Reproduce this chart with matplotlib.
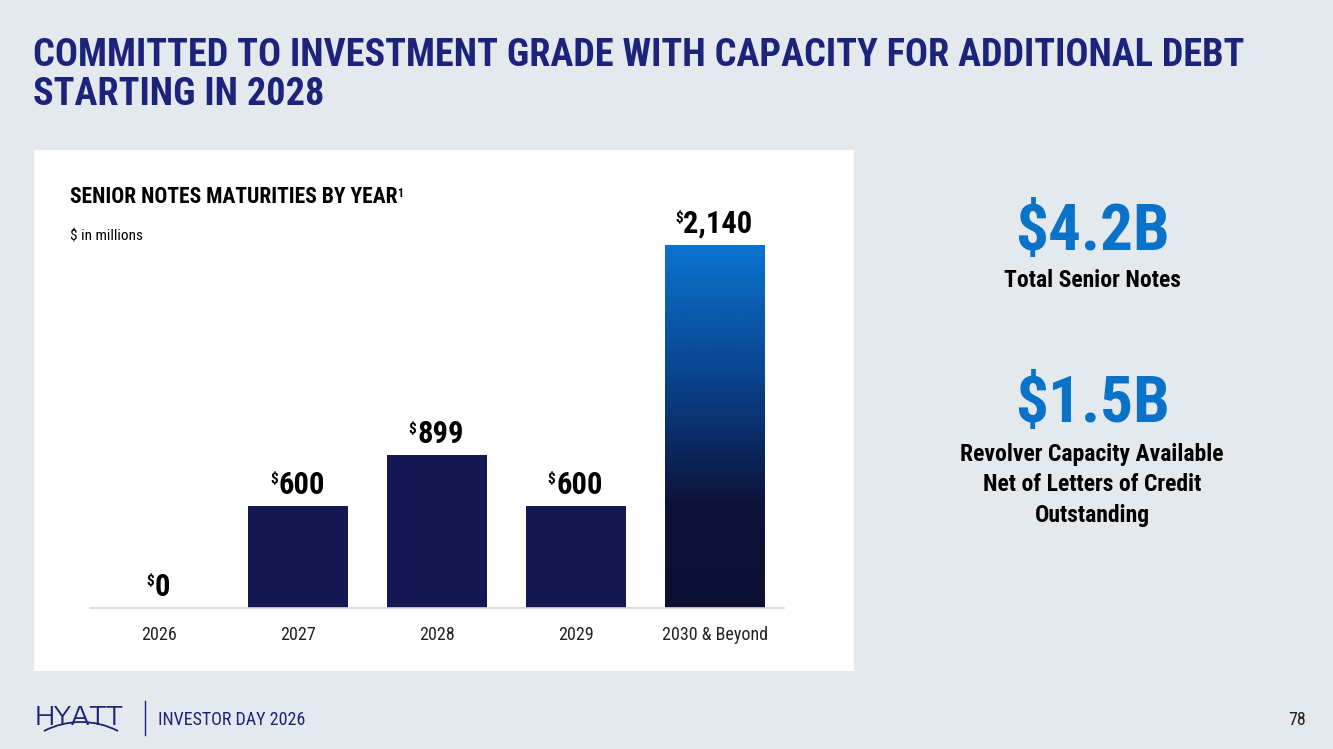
import matplotlib
matplotlib.use("Agg")
import matplotlib.pyplot as plt
import numpy as np
from matplotlib.patches import Rectangle, Arc
from matplotlib.colors import LinearSegmentedColormap
from matplotlib.text import Annotation
from matplotlib.transforms import IdentityTransform
from matplotlib import font_manager

plt.rcParams['font.family'] = ['Roboto Condensed', 'Liberation Sans', 'DejaVu Sans']
_names = {f.name for f in font_manager.fontManager.ttflist}
LOGO_FONT = "Encode Sans Expanded" if "Encode Sans Expanded" in _names else "Roboto"

# ---- data ----
categories = ["2026", "2027", "2028", "2029", "2030 & Beyond"]
values = [0, 600, 899, 600, 2140]
value_labels = ["0", "600", "899", "600", "2,140"]
title_line1 = "COMMITTED TO INVESTMENT GRADE WITH CAPACITY FOR ADDITIONAL DEBT"
title_line2 = "STARTING IN 2028"
kpi_values = ["$4.2B", "$1.5B"]
kpi_labels = ["Total Senior Notes", "Revolver Capacity Available\nNet of Letters of Credit\nOutstanding"]

BG = "#E4E9EE"
NAVY = "#141852"
TITLE = "#1B237A"
BLUE = "#0A72C8"

W, H = 1333, 749
fig = plt.figure(figsize=(W / 100, H / 100), dpi=100)
fig.patch.set_facecolor(BG)

def fx(px): return px / W
def fy(py): return 1 - py / H

# white panel
fig.add_artist(Rectangle((fx(34), fy(671)), fx(854) - fx(34), fy(150) - fy(671),
                         transform=fig.transFigure, facecolor="white", edgecolor="none", zorder=-5))

# title
fig.text(fx(33), fy(66), title_line1, fontsize=27.5, fontweight="bold", color=TITLE,
         ha="left", va="baseline")
fig.text(fx(33), fy(105), title_line2, fontsize=27.5, fontweight="bold", color=TITLE,
         ha="left", va="baseline")

# chart subtitle
st = fig.text(fx(70), fy(203), "SENIOR NOTES MATURITIES BY YEAR", fontsize=15.5, fontweight="bold",
              color="black", ha="left", va="baseline")
fig.add_artist(Annotation("1", xy=(1, 1), xycoords=st, xytext=(-0.3, -0.5),
                          textcoords="offset points", ha="left", va="top",
                          fontsize=8.5, fontweight="bold", color="black"))
fig.text(fx(70), fy(241), r"\$ in millions", fontsize=11, color="black", ha="left", va="baseline")

# axes
ymax = 2405
ax = fig.add_axes([fx(90), fy(608), fx(784) - fx(90), fy(200) - fy(608)])
ax.set_facecolor("none")
x = np.arange(len(categories))
bars = ax.bar(x, values, width=0.72, color=NAVY, zorder=2)
ax.set_xlim(-0.5, 4.5)
ax.set_ylim(0, ymax)
ax.set_yticks([])
ax.set_xticks(x)
ax.set_xticklabels(categories, fontsize=13, color="#222222")
ax.tick_params(axis="x", length=0, pad=13)
for s in ["top", "left", "right"]:
    ax.spines[s].set_visible(False)
ax.spines["bottom"].set_color("#D9D9D9")
ax.spines["bottom"].set_linewidth(1.2)

# gradient for last bar
last = bars[-1]
last.set_facecolor("none")
cmap = LinearSegmentedColormap.from_list("g", [(0.0, "#0B0F33"), (0.28, "#0C1238"),
                                               (0.6, "#0A3E86"), (1.0, "#0A74D0")])
grad = np.linspace(0, 1, 256).reshape(-1, 1)
bx, bw, bh = last.get_x(), last.get_width(), last.get_height()
im = ax.imshow(grad, cmap=cmap, origin="lower", aspect="auto",
               extent=[bx, bx + bw, 0, bh], zorder=2)
im.set_clip_path(last)
ax.set_xlim(-0.5, 4.5)
ax.set_ylim(0, ymax)

# value labels
for xi, v, lab in zip(x, values, value_labels):
    t = ax.annotate(lab, xy=(xi, v), xytext=(2.5, 9), textcoords="offset points",
                    ha="center", va="baseline", fontsize=22, fontweight="bold", color="black")
    ax.annotate(r"\$", xy=(0, 1), xycoords=t, xytext=(-0.5, -2), textcoords="offset points",
                ha="right", va="top", fontsize=11, fontweight="bold", color="black")

# KPIs
fig.text(fx(1092), fy(250), kpi_values[0], fontsize=47, fontweight="bold", color=BLUE,
         ha="center", va="baseline")
fig.text(fx(1092), fy(287), kpi_labels[0], fontsize=17, fontweight="bold", color="black",
         ha="center", va="baseline")
fig.text(fx(1092), fy(422), kpi_values[1], fontsize=47, fontweight="bold", color=BLUE,
         ha="center", va="baseline")
fig.text(fx(1092), fy(443), kpi_labels[1], fontsize=17, fontweight="bold", color="black",
         ha="center", va="top", linespacing=1.41)

# footer: logo
fig.text(fx(35), fy(725), "HYATT", fontsize=18, color=TITLE, ha="left", va="baseline",
         family=[LOGO_FONT, "DejaVu Sans"], fontweight="normal")
r = 80.5
fig.add_artist(Arc((81, H - (722 + r)), 2 * r, 2 * r, theta1=62.6, theta2=117.4,
                   transform=IdentityTransform(), color=TITLE, lw=1.3))
fig.add_artist(plt.Line2D([fx(145), fx(145)], [fy(701), fy(735)], transform=fig.transFigure,
                          color=TITLE, lw=1))
fig.text(fx(158), fy(725), "INVESTOR DAY 2026", fontsize=13, color=TITLE, ha="left", va="baseline")
fig.text(fx(1306), fy(725), "78", fontsize=13, color="#222222", ha="right", va="baseline")

fig.savefig("out.png", dpi=100, facecolor=BG)
